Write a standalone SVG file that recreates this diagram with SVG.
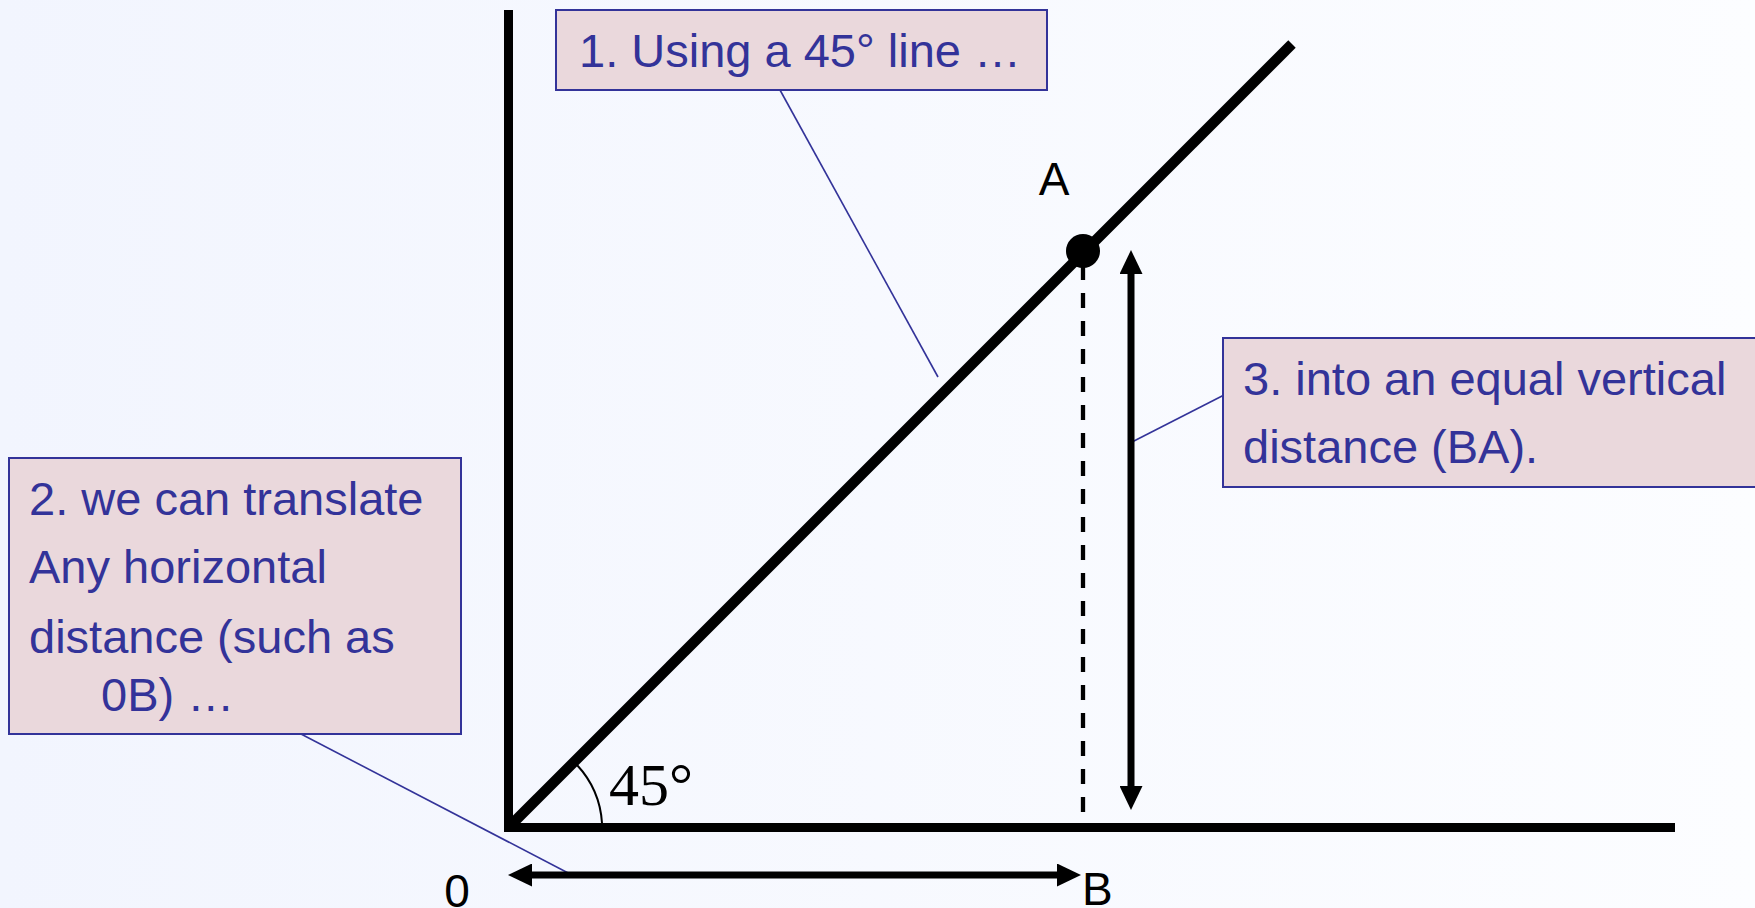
<svg xmlns="http://www.w3.org/2000/svg" width="1755" height="908" viewBox="0 0 1755 908">
  <defs>
    <linearGradient id="bg" x1="0" y1="0" x2="1" y2="0">
      <stop offset="0" stop-color="#f2f5fe"/>
      <stop offset="1" stop-color="#fcfdff"/>
    </linearGradient>
    <marker id="head" markerUnits="userSpaceOnUse" markerWidth="24" markerHeight="23" refX="0" refY="11.5" orient="auto-start-reverse" viewBox="0 0 24 23">
      <path d="M0,0 L24,11.5 L0,23 Z" fill="#000"/>
    </marker>
    <style>
      .box { fill: #ead8dc; stroke: #333399; stroke-width: 2; }
      .btxt { font-family: "Liberation Sans", Arial, sans-serif; font-size: 47px; fill: #333399; }
      .lbl { font-family: "Liberation Sans", Arial, sans-serif; font-size: 46px; fill: #000; }
      .leader { stroke: #333399; stroke-width: 1.6; fill: none; }
      .axis { stroke: #000; stroke-width: 9; fill: none; }
      .dim { stroke: #000; stroke-width: 7; fill: none; marker-start: url(#head); marker-end: url(#head); }
    </style>
  </defs>
  <rect x="0" y="0" width="1755" height="908" fill="url(#bg)"/>

  <g id="axes">
    <line class="axis" x1="508.5" y1="10" x2="508.5" y2="832"/>
    <line class="axis" x1="504" y1="827.5" x2="1675" y2="827.5"/>
    <line id="diagonal" x1="508" y1="828" x2="1292" y2="44" stroke="#000" stroke-width="10.5"/>
    <line id="dashed" x1="1083" y1="262" x2="1083" y2="823" stroke="#000" stroke-width="4.3" stroke-dasharray="15 13" stroke-dashoffset="-3"/>
    <path id="angle-arc" d="M577,765 A94,94 0 0 1 602,823" stroke="#000" stroke-width="2" fill="none"/>
  </g>

  <g id="pointA">
    <circle cx="1083" cy="251" r="17" fill="#000"/>
    <text class="lbl" x="1054" y="195" text-anchor="middle">A</text>
  </g>
  <g id="label-0"><text class="lbl" x="457" y="907" text-anchor="middle">0</text></g>
  <g id="label-B"><text class="lbl" x="1082" y="905">B</text></g>
  <g id="label-45"><text x="609" y="805" font-family="Liberation Serif, 'Times New Roman', serif" font-size="60" fill="#000">45°</text></g>

  <g id="connectors">
    <line class="leader" x1="780" y1="90" x2="938" y2="377"/>
    <line class="leader" x1="301" y1="734" x2="572" y2="875"/>
    <line class="leader" x1="1226" y1="394" x2="1132" y2="442"/>
    <line class="dim" x1="1131" y1="274" x2="1131" y2="786"/>
    <line class="dim" x1="532" y1="875" x2="1057" y2="875"/>
  </g>

  <g id="box1">
    <rect class="box" x="556" y="10" width="491" height="80"/>
    <text class="btxt" x="579" y="67">1. Using a 45° line …</text>
  </g>
  <g id="box2">
    <rect class="box" x="9" y="458" width="452" height="276"/>
    <text class="btxt" x="29" y="515">2. we can translate</text>
    <text class="btxt" x="29" y="583">Any horizontal</text>
    <text class="btxt" x="29" y="653">distance (such as</text>
    <text class="btxt" x="101" y="711">0B) …</text>
  </g>
  <g id="box3">
    <rect class="box" x="1223" y="338" width="540" height="149"/>
    <text class="btxt" x="1243" y="395">3. into an equal vertical</text>
    <text class="btxt" x="1243" y="463">distance (BA).</text>
  </g>
</svg>
